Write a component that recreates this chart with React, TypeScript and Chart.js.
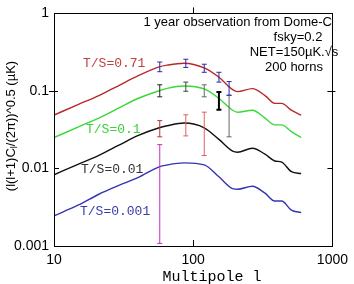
import { useEffect, useRef } from "react";
import { Chart, registerables } from "chart.js";
Chart.register(...registerables);

// multipole values for the model curves
const ell = [10, 15, 21, 29, 40, 57, 65, 86, 120, 153, 192, 208, 266, 328, 385, 432, 507, 596];
const ts071 = [0.0488, 0.0672, 0.0872, 0.1166, 0.156, 0.204, 0.215, 0.228, 0.198, 0.150, 0.104, 0.098, 0.107, 0.0872, 0.0691, 0.0691, 0.0564, 0.0488];
const ts01 = [0.025, 0.0345, 0.0447, 0.0598, 0.0799, 0.1006, 0.108, 0.116, 0.106, 0.080, 0.0564, 0.0532, 0.0564, 0.0447, 0.0365, 0.0365, 0.0298, 0.025];
const ts001 = [0.0083, 0.0114, 0.0148, 0.0198, 0.0265, 0.0335, 0.0355, 0.0385, 0.0335, 0.0237, 0.0167, 0.0162, 0.0182, 0.0153, 0.0125, 0.0121, 0.0091, 0.0086];
const ts0001 = [0.00245, 0.00338, 0.00465, 0.006, 0.0076, 0.0105, 0.0111, 0.0118, 0.0111, 0.0078, 0.0055, 0.0054, 0.0059, 0.0048, 0.0038, 0.0038, 0.0029, 0.0027];

// error bars
const barL = [57.5, 88.5, 120, 153, 181];
const blueBarLo = [0.177, 0.201, 0.174, 0.13, 0.088];
const blueBarHi = [0.236, 0.256, 0.221, 0.174, 0.132];
const greyBarLo = [0.084, 0.099, 0.084, 0.057, 0.0256];
const greyBarHi = [0.12, 0.13, 0.12, 0.097, 0.088];
const redBarL = [57.5, 88.5, 120];
const redBarLo = [0.0256, 0.0263, 0.0147];
const redBarHi = [0.0414, 0.0492, 0.0532];
const magBarL = [57.5];
const magBarLo = [0.00108];
const magBarHi = [0.0203];

const xTicks = [10, 100, 1000];
const yTicks = [0.001, 0.01, 0.1, 1];

const greyColors = ["#222222", "#444444", "#666666", "#000000", "#666666"];
const greyWidths = [1, 1, 1, 2, 1];
const redBarColors = ["#c03030", "#e06060", "#e06060"];

export default function App() {
  const ref = useRef<HTMLCanvasElement>(null);
  useEffect(() => {
    const canvas = ref.current!;
    const curve = (data: number[], color: string) => ({
      type: "line",
      data: ell.map((l, i) => ({ x: l, y: data[i] })),
      borderColor: color,
      borderWidth: 1.4,
      pointRadius: 0,
      pointHoverRadius: 0,
      cubicInterpolationMode: "monotone",
      fill: false,
      order: 2,
    });
    const bar = (l: number, lo: number, hi: number, color: string, width: number) => ({
      type: "line",
      data: [{ x: l, y: lo }, { x: l, y: hi }],
      borderColor: color,
      borderWidth: width,
      pointStyle: "line",
      pointRadius: 2.5,
      pointHoverRadius: 2.5,
      pointBorderColor: color,
      pointBorderWidth: width,
      fill: false,
      order: 1,
    });
    const datasets: any[] = [
      curve(ts071, "#b82a2a"),
      curve(ts01, "#3ad83a"),
      curve(ts001, "#111111"),
      curve(ts0001, "#3434b4"),
    ];
    barL.forEach((l, i) => datasets.push(bar(l, blueBarLo[i], blueBarHi[i], "#2a2aa8", 1)));
    barL.forEach((l, i) => datasets.push(bar(l, greyBarLo[i], greyBarHi[i], greyColors[i], greyWidths[i])));
    redBarL.forEach((l, i) => datasets.push(bar(l, redBarLo[i], redBarHi[i], redBarColors[i], 1)));
    magBarL.forEach((l, i) => datasets.push(bar(l, magBarLo[i], magBarHi[i], "#c030c0", 1)));

    const decor = {
      id: "decor",
      afterDatasetsDraw(chart: any) {
        const c = chart.ctx;
        const a = chart.chartArea;
        const xs = chart.scales.x;
        const ys = chart.scales.y;
        c.save();
        c.strokeStyle = "#000";
        c.lineWidth = 1;
        c.strokeRect(Math.round(a.left) + 0.5, Math.round(a.top) + 0.5, Math.round(a.right - a.left), Math.round(a.bottom - a.top));
        c.beginPath();
        const y1 = Math.round(ys.getPixelForValue(0.1)) + 0.5;
        const y2 = Math.round(ys.getPixelForValue(0.01)) + 0.5;
        const x100 = Math.round(xs.getPixelForValue(100)) + 0.5;
        c.moveTo(a.left - 5, y1); c.lineTo(a.left + 4, y1);
        c.moveTo(a.left, y2); c.lineTo(a.left + 5, y2);
        c.moveTo(a.right - 5, y1); c.lineTo(a.right + 3, y1);
        c.moveTo(a.right - 5, y2); c.lineTo(a.right, y2);
        c.moveTo(x100, a.top - 6); c.lineTo(x100, a.top);
        c.moveTo(x100, a.bottom - 6); c.lineTo(x100, a.bottom);
        c.stroke();

        c.textBaseline = "middle";
        c.textAlign = "left";
        c.font = '13px "Liberation Mono"';
        c.fillStyle = "#c04040"; c.fillText("T/S=0.71", 83, 64);
        c.fillStyle = "#3cd03c"; c.fillText("T/S=0.1", 86, 130);
        c.fillStyle = "#333333"; c.fillText("T/S=0.01", 81, 170);
        c.fillStyle = "#3a3aaa"; c.fillText("T/S=0.001", 80, 212);

        c.fillStyle = "#000";
        c.font = '13px "Liberation Sans"';
        c.textAlign = "right";
        c.fillText("1 year observation from Dome-C", 332, 22);
        c.textAlign = "center";
        c.fillText("fsky=0.2", 298, 37);
        c.fillText("NET=150\u00b5K.\u221as", 294, 52);
        c.fillText("200 horns", 294, 67);

        c.font = '15px "Liberation Mono"';
        c.fillText("Multipole l", 212, 277);

        // y title with subscript
        c.translate(11, 126);
        c.rotate(-Math.PI / 2);
        c.textAlign = "left";
        const f1 = '13px "Liberation Sans"';
        const f2 = '9px "Liberation Sans"';
        const p1 = "(l(l+1)C";
        const p2 = "l";
        const p3 = "/(2\u03c0))^0.5 (\u00b5K)";
        c.font = f1;
        const w1 = c.measureText(p1).width;
        const w3 = c.measureText(p3).width;
        c.font = f2;
        const w2 = c.measureText(p2).width;
        let x = -(w1 + w2 + w3) / 2;
        c.font = f1; c.fillText(p1, x, 0); x += w1;
        c.font = f2; c.fillText(p2, x, 4); x += w2;
        c.font = f1; c.fillText(p3, x, 0);
        c.restore();
      },
    };

    const chart = new Chart(canvas, {
      type: "line",
      data: { datasets },
      options: {
        responsive: false,
        animation: false,
        events: [],
        layout: { padding: { top: 8, right: 15, left: 0, bottom: 0 } },
        plugins: { legend: { display: false }, tooltip: { enabled: false } },
        scales: {
          x: {
            type: "logarithmic",
            min: 10,
            max: 1000,
            grid: { display: false, drawTicks: false },
            border: { display: false },
            ticks: {
              color: "#000",
              font: { family: "Liberation Sans", size: 14 },
              padding: 6,
              maxRotation: 0,
              autoSkip: false,
              callback: (v: any) => String(v),
            },
            afterBuildTicks: (s: any) => { s.ticks = xTicks.map((v) => ({ value: v })); },
            afterFit: (s: any) => { s.height = 38; },
          },
          y: {
            type: "logarithmic",
            min: 0.001,
            max: 1,
            grid: { display: false, drawTicks: false },
            border: { display: false },
            ticks: {
              color: "#000",
              font: { family: "Liberation Sans", size: 14 },
              padding: 5,
              autoSkip: false,
              callback: (v: any) => String(v),
            },
            afterBuildTicks: (s: any) => { s.ticks = yTicks.map((v) => ({ value: v })); },
            afterFit: (s: any) => { s.width = 54; },
          },
        },
      } as any,
      plugins: [decor],
    } as any);
    return () => chart.destroy();
  }, []);
  return (
    <div style={{ position: "fixed", left: 0, top: 0, width: 354, height: 284, background: "#fff" }}>
      <canvas ref={ref} width={354} height={284} style={{ display: "block" }} />
    </div>
  );
}
